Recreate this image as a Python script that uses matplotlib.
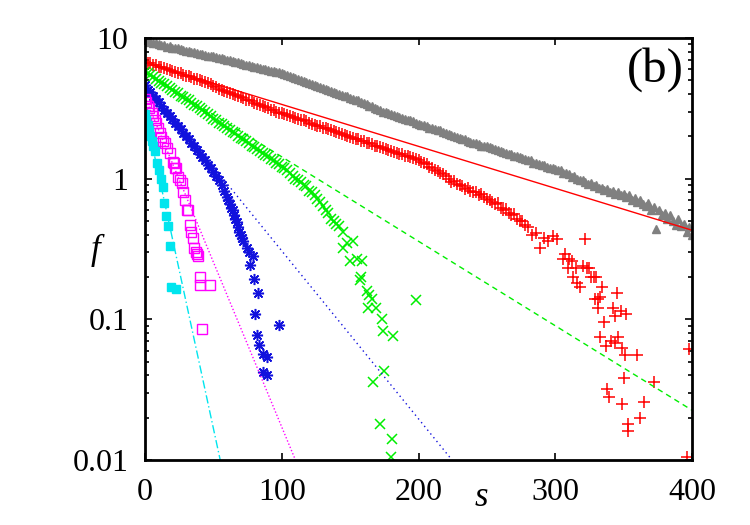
import matplotlib
matplotlib.use('Agg')
import matplotlib.pyplot as plt
from matplotlib.ticker import FixedLocator, FixedFormatter, LogLocator, NullFormatter

# gray triangles, one point every 2 in s
gray_s = list(range(0, 401, 2))
gray_f = [9.6, 9.45, 9.4, 9.2, 9.25, 9.0, 8.95, 8.9, 8.7, 8.75, 8.55, 8.5, 8.45, 8.3, 8.25, 8.1, 8.1, 7.95, 7.9, 7.85, 7.7, 7.7, 7.6, 7.5, 7.5, 7.4,
          7.3, 7.25, 7.15, 7.1, 6.95, 6.95, 6.85, 6.75, 6.7, 6.6, 6.55, 6.45, 6.4, 6.35, 6.25, 6.2, 6.1, 6.05, 6.0, 5.95, 5.85, 5.85, 5.75, 5.7, 5.65,
          5.55, 5.5, 5.35, 5.3, 5.2, 5.1, 5.05, 4.95, 4.85, 4.8, 4.7, 4.65, 4.55, 4.5, 4.4, 4.35, 4.25, 4.2, 4.1, 4.05, 4.0, 3.95, 3.85, 3.85, 3.75,
          3.7, 3.6, 3.6, 3.5, 3.45, 3.4, 3.3, 3.3, 3.2, 3.15, 3.1, 3.0, 3.0, 2.95, 2.9, 2.85, 2.8, 2.75, 2.7, 2.65, 2.6, 2.6, 2.55, 2.5, 2.45,
          2.42, 2.4, 2.35, 2.3, 2.28, 2.25, 2.2, 2.2, 2.15, 2.1, 2.08, 2.05, 2.0, 1.98, 1.95, 1.9, 1.9, 1.85, 1.82, 1.8, 1.78, 1.75, 1.72, 1.72, 1.7,
          1.68, 1.65, 1.62, 1.6, 1.58, 1.55, 1.52, 1.5, 1.5, 1.45, 1.45, 1.42, 1.4, 1.38, 1.35, 1.35, 1.3, 1.3, 1.28, 1.25, 1.25, 1.22, 1.2, 1.2, 1.18,
          1.15, 1.15, 1.1, 1.1, 1.08, 1.02, 1.05, 1.0, 0.98, 0.98, 0.95, 0.92, 0.93, 0.88, 0.9, 0.86, 0.86, 0.83, 0.84, 0.8, 0.82, 0.78, 0.8, 0.76, 0.78,
          0.74, 0.76, 0.71, 0.73, 0.68, 0.7, 0.66, 0.64, 0.67, 0.6, 0.63, 0.44, 0.6, 0.55, 0.57, 0.52, 0.55, 0.5, 0.47, 0.52, 0.46, 0.48, 0.42, 0.45, 0.4]

# red plus: dense part (every 2 in s) then the scattered tail
red_s = list(range(0, 281, 2)) + [283, 286, 289, 292, 295, 298, 301, 306, 307, 310, 312, 309, 315, 320, 323, 325, 313, 316, 318, 322,
                                  326, 328, 330, 334, 329, 331, 333, 331, 345, 342, 344, 348, 352, 336, 333, 337, 341, 344, 346, 349,
                                  351, 360, 350, 372, 338, 339, 365, 349, 362, 353, 353, 398, 396]
red_f = [6.8, 6.65, 6.6, 6.45, 6.4, 6.25, 6.2, 6.1, 6.0, 5.95, 5.85, 5.75, 5.65, 5.6, 5.5, 5.4, 5.35, 5.25, 5.15, 5.1, 5.0, 4.95, 4.85, 4.75, 4.7, 4.55,
         4.45, 4.35, 4.3, 4.2, 4.15, 4.05, 4.0, 3.95, 3.85, 3.8, 3.75, 3.65, 3.6, 3.55, 3.45, 3.4, 3.35, 3.3, 3.25, 3.2, 3.1, 3.1, 3.0, 2.95, 2.95,
         2.9, 2.85, 2.8, 2.75, 2.7, 2.65, 2.6, 2.6, 2.55, 2.5, 2.45, 2.4, 2.38, 2.35, 2.3, 2.28, 2.25, 2.2, 2.18, 2.15,
         2.1, 2.08, 2.05, 2.0, 1.98, 1.95, 1.92, 1.9, 1.85, 1.85, 1.8, 1.78, 1.75, 1.72, 1.7, 1.68, 1.65, 1.62, 1.6, 1.58, 1.55, 1.52, 1.5, 1.5, 1.45,
         1.45, 1.42, 1.4, 1.38, 1.36,
         1.32, 1.3, 1.28, 1.22, 1.2, 1.16, 1.14, 1.1, 1.08, 1.05,
         1.0, 0.95, 0.97, 0.92, 0.9, 0.88, 0.85, 0.86, 0.82, 0.8, 0.8, 0.77, 0.78, 0.74, 0.72,
         0.7, 0.68, 0.66, 0.67, 0.62, 0.6, 0.61, 0.57, 0.55, 0.56, 0.52, 0.5, 0.5, 0.47, 0.45,
         0.40, 0.41, 0.32, 0.38, 0.36, 0.39, 0.37, 0.27, 0.29, 0.27, 0.26, 0.23, 0.23, 0.24, 0.23, 0.23, 0.2, 0.18, 0.17, 0.37,
         0.2, 0.2, 0.2, 0.17, 0.14, 0.14, 0.145, 0.12, 0.155, 0.12, 0.105, 0.115, 0.11, 0.095, 0.075, 0.065, 0.07, 0.068, 0.075, 0.063,
         0.056, 0.056, 0.038, 0.036, 0.032, 0.028, 0.026, 0.025, 0.02, 0.018, 0.016, 0.062, 0.0105]

# green crosses
green_s = list(range(0, 141, 2)) + [142, 145, 148, 152, 145, 150, 155, 159, 157, 158, 162, 164, 166, 198, 163, 169, 173, 174,
                                    181, 175, 167, 172, 180.6, 180]
green_f = [5.75, 5.6, 5.45, 5.3, 5.1, 4.95, 4.8, 4.7, 4.55, 4.4, 4.3, 4.15, 4.05, 3.9, 3.8, 3.7, 3.6, 3.45, 3.35, 3.3, 3.2, 3.1, 3.0, 2.9, 2.8, 2.65,
           2.6, 2.5, 2.45, 2.35, 2.3, 2.2, 2.15, 2.1, 2.0, 1.95, 1.9, 1.85, 1.78, 1.72, 1.68, 1.62, 1.58, 1.52, 1.48, 1.45, 1.38, 1.35, 1.3, 1.28, 1.22,
           1.2, 1.15, 1.1, 1.05, 1.0, 0.98, 0.95, 0.9, 0.88, 0.82, 0.8, 0.76, 0.72, 0.68, 0.64, 0.6, 0.57, 0.52, 0.5, 0.48,
           0.46, 0.42, 0.35, 0.36, 0.32, 0.26, 0.27, 0.26, 0.19, 0.2, 0.16, 0.15, 0.14, 0.137, 0.12, 0.12, 0.10, 0.083,
           0.076, 0.043, 0.036, 0.018, 0.014, 0.0105]

# blue asterisks
blue_s = list(range(0, 59, 2)) + [60, 61, 62, 63, 64, 65, 66, 67, 68, 69, 70, 71, 72, 74.5, 76, 79, 77, 80, 82.6, 80.5, 98, 82,
                                  83.5, 86, 89, 86, 89]
blue_f = [4.6, 4.3, 4.1, 3.9, 3.7, 3.5, 3.3, 3.1, 2.95, 2.8, 2.65, 2.5, 2.35, 2.25, 2.1, 2.0, 1.9, 1.78, 1.7, 1.6,
          1.5, 1.42, 1.35, 1.25, 1.2, 1.12, 1.05, 0.98, 0.9, 0.82,
          0.74, 0.7, 0.66, 0.62, 0.6, 0.55, 0.52, 0.49, 0.45, 0.42, 0.4, 0.38, 0.36, 0.32, 0.3, 0.28, 0.245, 0.195, 0.155,
          0.11, 0.091, 0.077, 0.066, 0.057, 0.054, 0.042, 0.04]

# magenta open squares
mag_s = [0, 1, 2, 3, 5, 6, 7, 8, 9.7, 11, 12, 13, 14.6, 16, 18, 20.6, 22, 24, 21, 23, 25.6, 27, 28, 29, 30.5, 31.4, 33, 34, 35,
         35.5, 37, 38, 39, 40, 40, 47.5, 41.7]
mag_f = [3.7, 3.5, 3.3, 3.2, 2.95, 2.8, 2.6, 2.5, 2.3, 2.1, 1.98, 1.85, 1.78, 1.65, 1.51, 1.31, 1.19, 1.02, 1.3, 1.2, 0.98, 0.93,
         0.8, 0.7, 0.6, 0.6, 0.47, 0.42, 0.38, 0.32, 0.3, 0.29, 0.28, 0.2, 0.174, 0.174, 0.085]

# cyan filled squares
cyan_s = [0, 1, 2, 3, 4, 5, 6, 7.3, 8.5, 10, 11.5, 13, 14, 15, 16.5, 18, 19, 22.6]
cyan_f = [2.9, 2.6, 2.4, 2.2, 2.0, 1.85, 1.7, 1.58, 1.3, 1.15, 1.0, 0.87, 0.67, 0.54, 0.46, 0.33, 0.17, 0.165]

# exponential fits, given by their two end points (straight on the log axis)
fit_s = [[0, 400], [0, 400], [0, 224.5], [0, 110], [0, 55]]
fit_f = [[6.7, 0.43], [5.7, 0.0226], [4.8, 0.01], [3.8, 0.01], [3.0, 0.01]]

plt.rcParams['font.family'] = ['Liberation Serif', 'DejaVu Serif']

fig = plt.figure(figsize=(7.5, 5.25), dpi=100)
ax = fig.add_axes([145 / 750, 1 - 460 / 525, 547 / 750, 422 / 525])

ax.plot(gray_s, gray_f, ls='none', marker='^', ms=5.5, color='#808080', mec='#808080')
ax.plot(red_s, red_f, ls='none', marker='+', ms=8, mew=1.1, color='#ff0000')
ax.plot(green_s, green_f, ls='none', marker='x', ms=6.5, mew=1.1, color='#00ee00')
ax.plot(blue_s, blue_f, ls='none', marker=(8, 2, 0), ms=8, mew=1.1, color='#1212dd')
ax.plot(mag_s, mag_f, ls='none', marker='s', ms=7, mew=1.0, mfc='none', mec='#ff00ff')
ax.plot(cyan_s, cyan_f, ls='none', marker='s', ms=5.5, color='#00e5ee')

line_styles = [('#ff0000', '-'), ('#00ee00', (0, (4, 3))), ('#1212dd', (0, (1, 2.5))),
               ('#ff00ff', (0, (1, 1.5))), ('#00e5ee', (0, (6, 2, 1, 2)))]
for xs, ys, (c, ls) in zip(fit_s, fit_f, line_styles):
    ax.plot(xs, ys, color=c, ls=ls, lw=1.0)

ax.set_yscale('log')
ax.set_xlim(0, 400)
ax.set_ylim(0.01, 10)

ax.xaxis.set_major_locator(FixedLocator([0, 100, 200, 300, 400]))
ax.yaxis.set_major_locator(FixedLocator([0.01, 0.1, 1, 10]))
ax.yaxis.set_major_formatter(FixedFormatter(['0.01', '0.1', '1', '10']))
ax.yaxis.set_minor_locator(LogLocator(base=10, subs=range(2, 10)))
ax.yaxis.set_minor_formatter(NullFormatter())

ax.tick_params(which='both', direction='in', top=True, right=True, width=1.2, labelsize=23)
ax.tick_params(which='major', length=5)
ax.tick_params(which='minor', length=3)
ax.tick_params(axis='x', pad=13)
ax.tick_params(axis='y', pad=12)
for sp in ax.spines.values():
    sp.set_linewidth(2)

fig.text(95 / 750, 1 - 250 / 525, 'f', fontsize=25, style='italic', ha='center', va='center')
fig.text(481 / 750, 1 - 497 / 525, 's', fontsize=25, style='italic', ha='center', va='center')
fig.text(684 / 750, 1 - 70 / 525, '(b)', fontsize=35, ha='right', va='center')

plt.savefig('out.png', dpi=100)
